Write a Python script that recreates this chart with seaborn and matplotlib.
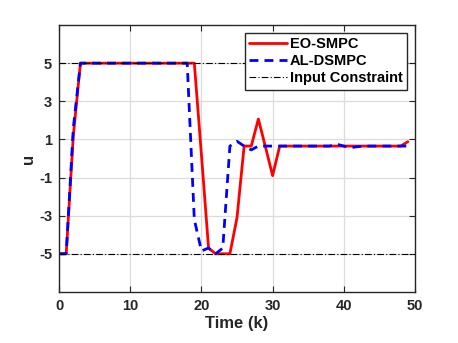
import matplotlib
matplotlib.use("Agg")
import matplotlib.pyplot as plt
import numpy as np
import pandas as pd
import seaborn as sns

# 시간축과 입력 시퀀스
k = list(range(50))
eo_smpc = [-5, -5, 1.2, 5, 5, 5, 5, 5, 5, 5,
           5, 5, 5, 5, 5, 5, 5, 5, 5, 5,
           0.2, -4.7, -5, -5, -5, -3.1, 0.65, 0.65, 2.07, 0.6,
           -0.9, 0.65, 0.65, 0.65, 0.65, 0.65, 0.65, 0.65, 0.65, 0.65,
           0.65, 0.65, 0.65, 0.65, 0.65, 0.65, 0.65, 0.65, 0.65, 0.88]
al_dsmpc = [-5, -5, 1.6, 5, 5, 5, 5, 5, 5, 5,
            5, 5, 5, 5, 5, 5, 5, 5, 5, -3.2,
            -4.85, -4.7, -5, -4.7, 0.65, 0.9, 0.65, 0.45, 0.65, 0.65,
            0.65, 0.65, 0.65, 0.65, 0.65, 0.65, 0.65, 0.65, 0.65, 0.75,
            0.65, 0.57, 0.62, 0.65, 0.65, 0.65, 0.65, 0.65, 0.65, 0.65]
u_max = [5, 5]
u_min = [-5, -5]
k_bound = [0, 50]

EDGE = "#262626"


def main():
    sns.set_theme(style="whitegrid")
    plt.rcParams["font.family"] = ["Liberation Sans", "DejaVu Sans"]
    plt.rcParams["font.weight"] = "bold"
    plt.rcParams["axes.unicode_minus"] = False

    fig = plt.figure(figsize=(4.58, 3.43), dpi=100)
    ax = fig.add_axes([0.129, 0.149, 0.777, 0.778])

    d = pd.DataFrame({"k": k, "eo": eo_smpc, "al": al_dsmpc})
    sns.lineplot(data=d, x="k", y="eo", ax=ax, color="#ff0000", lw=2.0,
                 label="EO-SMPC")
    sns.lineplot(data=d, x="k", y="al", ax=ax, color="#0000ff", lw=2.0,
                 label="AL-DSMPC", linestyle=(0, (3.2, 2.2)))
    sns.lineplot(x=k_bound, y=u_max, ax=ax, color="black", lw=0.8,
                 linestyle=(0, (6, 2, 1, 2)), label="Input Constraint")
    sns.lineplot(x=k_bound, y=u_min, ax=ax, color="black", lw=0.8,
                 linestyle=(0, (6, 2, 1, 2)))

    ax.set_xlim(0, 50)
    ax.set_ylim(-7, 7)
    ax.set_xticks([0, 10, 20, 30, 40, 50])
    ax.set_yticks([-5, -3, -1, 1, 3, 5])
    ax.set_facecolor("white")
    ax.grid(True, color="#dcdcdc", linewidth=0.9)
    for s in ax.spines.values():
        s.set_color(EDGE)
        s.set_linewidth(1.0)
        s.set_visible(True)
    ax.tick_params(direction="in", length=4, width=0.8, color=EDGE,
                   labelsize=10.5, labelcolor=EDGE, top=True, right=True,
                   bottom=True, left=True, pad=5)
    for lab in ax.get_xticklabels() + ax.get_yticklabels():
        lab.set_fontweight("bold")

    ax.set_xlabel("Time (k)", fontsize=12, fontweight="bold", color=EDGE, labelpad=2)
    ax.set_ylabel("u", fontsize=12, fontweight="bold", color=EDGE, labelpad=2)

    leg = ax.legend(loc="upper right", fontsize=10.5, frameon=True, fancybox=False,
                    edgecolor=EDGE, framealpha=1, borderpad=0.3, labelspacing=0.2,
                    handlelength=2.6, handletextpad=0.2, borderaxespad=0.55)
    leg.get_frame().set_linewidth(1.0)
    for t in leg.get_texts():
        t.set_fontweight("bold")
        t.set_color("black")

    fig.savefig("out.png", dpi=100)
    plt.close(fig)


if __name__ == "__main__":
    main()
